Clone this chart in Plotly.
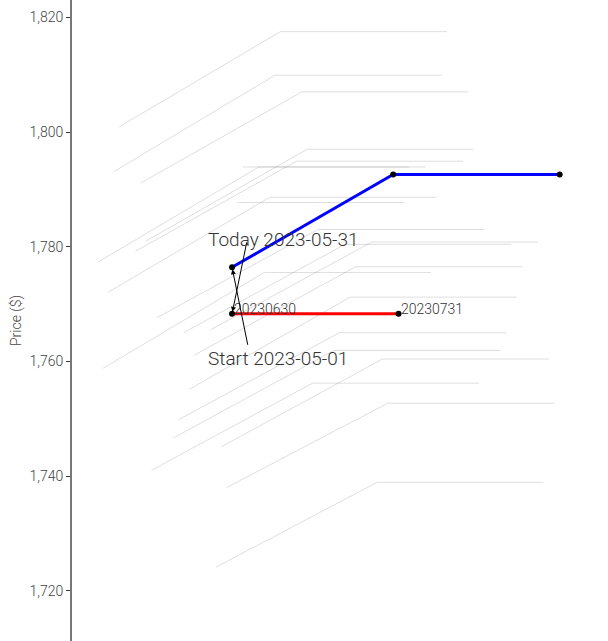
"""Futures curve drift chart.

Draws every daily futures curve between the start date and today as thin
grey lines, then highlights the start curve (red) and today's curve (blue).
The x axis is hidden: x is an offset in days, y is the settlement price.
"""

import plotly.graph_objects as go

FONT_STACK = "Roboto, 'Open Sans', sans-serif"
TEXT_COLOR = "#333333"

# Daily curves between start and today: day offsets and prices per contract
history_days = [
    [-25, 5, 36],
    [-24, 6, 37],
    [-23, 7, 38],
    [-22, 8, 39],
    [-21, 9, 40],
    [-18, 12, 43],
    [-17, 13, 44],
    [-16, 14, 45],
    [-15, 15, 46],
    [-14, 16, 47],
    [-11, 19, 50],
    [-10, 20, 51],
    [-9, 21, 52],
    [-8, 22, 53],
    [-7, 23, 54],
    [-4, 26, 57],
    [-3, 27, 58],
    [-2, 28, 59],
    [-1, 29, 60],
    [1, 32],
    [2, 33],
]
history_prices = [
    [1777.3, 1793.9, 1793.9],
    [1758.8, 1775.5, 1775.5],
    [1772.1, 1788.6, 1788.6],
    [1793.1, 1809.9, 1809.9],
    [1800.9, 1817.5, 1817.5],
    [1779.2, 1794.9, 1794.9],
    [1791.1, 1807.0, 1807.0],
    [1781.0, 1797.0, 1797.0],
    [1741.0, 1756.2, 1756.2],
    [1767.6, 1783.0, 1783.0],
    [1746.6, 1761.9, 1761.9],
    [1749.8, 1765.0, 1765.0],
    [1765.0, 1780.4, 1780.4],
    [1755.1, 1771.2, 1771.2],
    [1761.1, 1776.5, 1776.5],
    [1765.5, 1780.8, 1780.8],
    [1724.1, 1738.9, 1738.9],
    [1745.1, 1760.4, 1760.4],
    [1738.0, 1752.7, 1752.7],
    [1787.7, 1787.7],
    [1793.9, 1793.9],
]

# Highlighted curves
today_label = "Today 2023-05-31"
today_days = [0, 30, 61]
today_prices = [1776.4, 1792.6, 1792.6]

start_label = "Start 2023-05-01"
start_days = [0, 31]
start_prices = [1768.3, 1768.3]
start_contracts = ["20230630", "20230731"]

y_ticks = [1720, 1740, 1760, 1780, 1800, 1820]


def plot_curve_drift() -> go.Figure:
    fig = go.Figure()

    # Grey history curves
    for days, prices in zip(history_days, history_prices):
        fig.add_trace(
            go.Scatter(
                x=days,
                y=prices,
                mode="lines",
                line={"color": "rgba(128,128,128,0.26)", "width": 1},
                hoverinfo="skip",
                showlegend=False,
            )
        )

    # Start curve (red) and today's curve (blue)
    fig.add_trace(
        go.Scatter(
            x=start_days,
            y=start_prices,
            mode="lines+markers",
            line={"color": "red", "width": 3},
            marker={"color": "black", "size": 6},
            name=start_label,
            showlegend=False,
        )
    )
    fig.add_trace(
        go.Scatter(
            x=today_days,
            y=today_prices,
            mode="lines+markers",
            line={"color": "blue", "width": 3},
            marker={"color": "black", "size": 6},
            name=today_label,
            showlegend=False,
        )
    )

    label_font = {"family": FONT_STACK, "size": 14, "color": TEXT_COLOR, "weight": 300}
    big_font = {"family": FONT_STACK, "size": 19, "color": TEXT_COLOR, "weight": 300}

    # Contract labels on the start curve
    for day, price, contract in zip(start_days, start_prices, start_contracts):
        fig.add_annotation(
            x=day,
            y=price,
            text=contract,
            showarrow=False,
            xanchor="left",
            yanchor="middle",
            xshift=0,
            yshift=5,
            font=label_font,
        )

    # Arrows (they cross over: today's text points at the start curve and
    # the start text at today's curve, as in the original)
    arrow_style = {
        "showarrow": True,
        "arrowhead": 2,
        "arrowsize": 1,
        "arrowwidth": 1,
        "arrowcolor": "black",
        "standoff": 2,
    }
    fig.add_annotation(
        x=start_days[0], y=start_prices[0], text="", ax=15, ay=-73, **arrow_style
    )
    fig.add_annotation(
        x=today_days[0], y=today_prices[0], text="", ax=16, ay=79, **arrow_style
    )

    # Texts of the two annotations
    fig.add_annotation(
        x=start_days[0],
        y=start_prices[0],
        text=today_label,
        showarrow=False,
        xshift=51,
        yshift=74,
        font=big_font,
    )
    fig.add_annotation(
        x=today_days[0],
        y=today_prices[0],
        text=start_label,
        showarrow=False,
        xshift=46,
        yshift=-91,
        font=big_font,
    )

    _apply_layout(fig)
    return fig


def _apply_layout(fig: go.Figure) -> None:
    axis_font = {"family": FONT_STACK, "size": 14, "color": "#444444", "weight": 300}
    fig.update_layout(
        width=608,
        height=641,
        template="none",
        paper_bgcolor="white",
        plot_bgcolor="white",
        font={"family": FONT_STACK, "size": 14, "color": TEXT_COLOR},
        margin={"l": 72, "r": 0, "t": 0, "b": 0},
        showlegend=False,
        xaxis={
            "visible": False,
            "range": [-29.8, 70.0],
        },
        yaxis={
            "range": [1711.23, 1823.02],
            "tickvals": y_ticks,
            "tickformat": ",d",
            "showgrid": False,
            "zeroline": False,
            "showline": True,
            "linecolor": "#777777",
            "linewidth": 2,
            "ticks": "outside",
            "ticklen": 4,
            "tickcolor": "#333333",
            "tickfont": axis_font,
            "title": {"text": "Price ($)", "font": axis_font, "standoff": 5},
            "automargin": False,
        },
    )


fig = plot_curve_drift()
# drop the page's default body margin so the chart fills the window
fig.write_html(
    "out.html",
    config={"displayModeBar": False},
    post_script="document.body.style.margin = '0';",
)
